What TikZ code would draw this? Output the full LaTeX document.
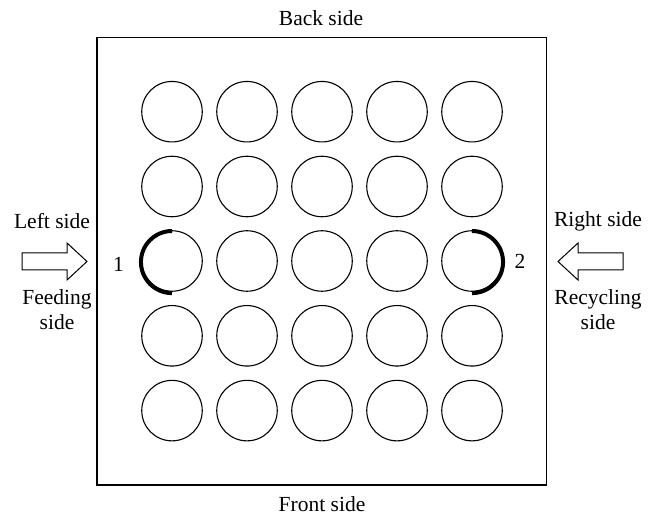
\documentclass[tikz,border=0pt]{standalone}
\usepackage{fontspec}
\setmainfont{Liberation Serif}
\begin{document}
\begin{tikzpicture}[x=1pt,y=-1pt,
  lbl/.style={font=\fontsize{21.5}{25}\selectfont, inner sep=0pt, align=center},
  pore/.style={circle, draw, line width=1.1pt, minimum size=60.5pt, inner sep=0pt},
  thickarc/.style={line width=4pt},
  fatarrow/.style={draw, line width=1pt, fill=white, line join=miter}]
\useasboundingbox (0,0) rectangle (658,518);
\node[draw, line width=1.4pt, minimum width=449.5pt, minimum height=447.5pt, inner sep=0pt] (box) at (321.8,261.2) {};
\foreach \r/\y in {1/111.7,2/186.5,3/261,4/335.8,5/410.6}{
  \foreach \c/\x in {1/172,2/247,3/322,4/397,5/472}{
    \node[pore] (c\r\c) at (\x,\y) {};
  }
}
\draw[thickarc] ([yshift=-0.8pt]c31.north) arc (-90:-270:31.05);
\draw[thickarc] ([yshift=-0.8pt]c35.north) arc (-90:90:31.05);
\node[lbl] (back) at (321,18) {Back side};
\node[lbl] (front) at (322,504) {Front side};
\node[lbl] (one) at (118.5,264) {1};
\node[lbl] (two) at (520,261) {2};
\node[lbl] (left) at (52,221) {Left side};
\node[lbl] (feed) at (57,310) {Feeding\\side};
\node[lbl] (right) at (598,221) {Right side};
\node[lbl] (recy) at (598,310) {Recycling\\side};
\draw[fatarrow] (22,253) -- (67,253) -- (67,243) -- (87,261.5) -- (67,280) -- (67,270) -- (22,270) -- cycle;
\draw[fatarrow] (623,253) -- (578,253) -- (578,243) -- (558,261.5) -- (578,280) -- (578,270) -- (623,270) -- cycle;
\end{tikzpicture}
\end{document}
